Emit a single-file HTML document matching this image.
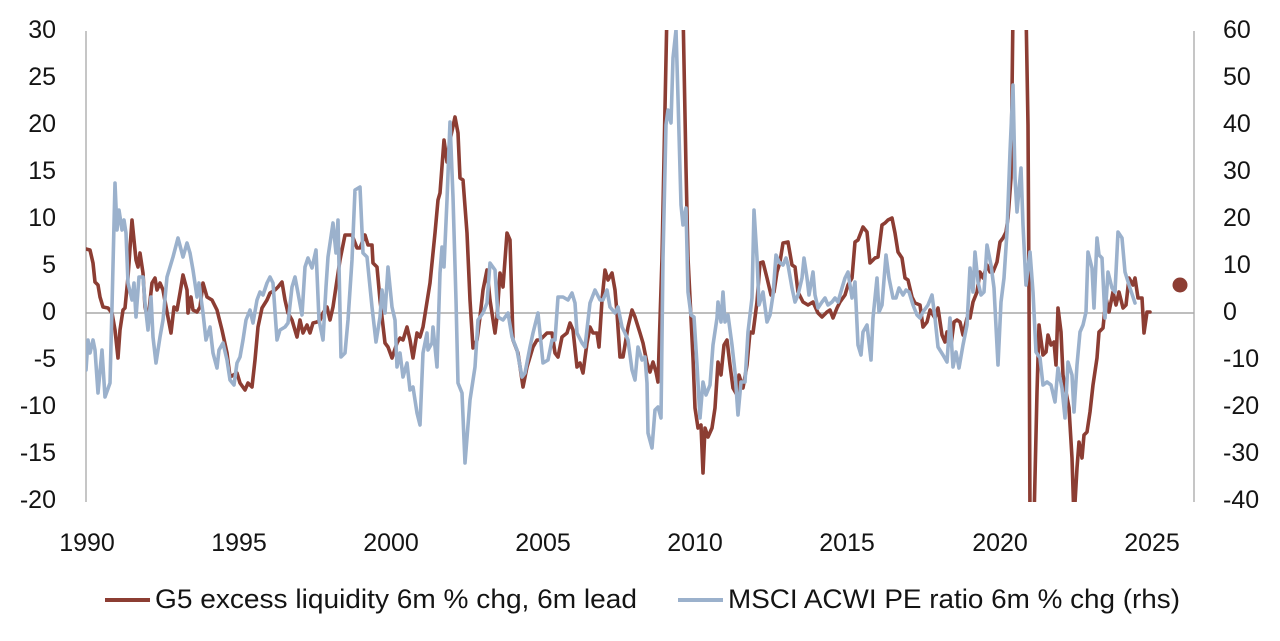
<!DOCTYPE html>
<html><head><meta charset="utf-8"><style>
html,body{margin:0;padding:0;background:#fff;}
svg{display:block;}
text{font-family:"Liberation Sans",Arial,sans-serif;fill:#141414;}
</style></head><body>
<svg width="1280" height="641" viewBox="0 0 1280 641" xmlns="http://www.w3.org/2000/svg">
<defs><clipPath id="c"><rect x="86" y="30" width="1108" height="472"/></clipPath></defs>
<rect width="1280" height="641" fill="#fff"/>
<line x1="86" y1="31" x2="86" y2="502" stroke="#b4b4b4" stroke-width="1.5"/>
<line x1="1194" y1="31" x2="1194" y2="502" stroke="#b4b4b4" stroke-width="1.5"/>
<line x1="86" y1="313" x2="1194" y2="313" stroke="#a8a8a8" stroke-width="1.5"/>
<g font-size="25" text-anchor="end">
<text x="56" y="38">30</text>
<text x="56" y="85">25</text>
<text x="56" y="132">20</text>
<text x="56" y="179">15</text>
<text x="56" y="226">10</text>
<text x="56" y="273">5</text>
<text x="56" y="320">0</text>
<text x="56" y="367">-5</text>
<text x="56" y="414">-10</text>
<text x="56" y="461">-15</text>
<text x="56" y="508">-20</text>
</g>
<g font-size="25" text-anchor="start">
<text x="1223" y="38">60</text>
<text x="1223" y="85">50</text>
<text x="1223" y="132">40</text>
<text x="1223" y="179">30</text>
<text x="1223" y="226">20</text>
<text x="1223" y="273">10</text>
<text x="1223" y="320">0</text>
<text x="1223" y="367">-10</text>
<text x="1223" y="414">-20</text>
<text x="1223" y="461">-30</text>
<text x="1223" y="508">-40</text>
</g>
<g font-size="25" text-anchor="middle">
<text x="87" y="551">1990</text>
<text x="239" y="551">1995</text>
<text x="391" y="551">2000</text>
<text x="543" y="551">2005</text>
<text x="695" y="551">2010</text>
<text x="847" y="551">2015</text>
<text x="1000" y="551">2020</text>
<text x="1152" y="551">2025</text>
</g>
<g clip-path="url(#c)" fill="none" stroke-linejoin="round" stroke-linecap="round">
<polyline stroke="#8c3d33" stroke-width="3.6" points="86,249 90,250 93,263 95,282 98,285 100,297 103,307 108,308 112,313 115,330 118,358 120,330 123,310 125,308 128,277 132,220 136,260 138,267 140,253 143,273 145,307 148,320 152,283 155,278 157,290 160,283 163,290 167,312 171,333 174,307 177,310 180,293 183,275 187,290 188,313 191,297 193,310 197,312 200,307 203,283 207,297 212,300 217,310 222,330 227,353 230,377 237,373 240,383 245,390 248,383 252,387 255,360 258,327 262,308 267,300 270,293 275,290 278,287 282,282 285,300 288,313 292,320 297,337 300,320 303,333 307,325 310,333 313,323 317,322 320,320 323,313 327,307 330,320 333,307 337,280 340,260 345,235 352,235 357,248 360,248 365,235 368,245 372,245 373,263 377,267 380,300 385,343 388,347 392,358 397,343 400,338 403,340 407,327 410,340 413,358 417,333 420,337 423,327 430,283 435,233 438,200 440,193 444,140 447,162 450,140 455,117 458,133 460,178 463,180 467,233 470,300 473,348 477,340 480,317 483,290 487,270 490,300 495,333 497,317 500,273 503,287 507,233 510,240 513,340 518,353 523,387 527,367 530,357 533,347 537,340 540,340 543,337 547,333 552,333 555,353 558,357 562,337 567,333 570,323 573,330 577,367 580,363 583,373 587,343 590,327 593,333 597,333 599,347 602,300 605,270 608,280 612,273 615,290 617,313 620,357 623,357 628,327 632,310 635,317 640,333 643,343 647,363 650,372 653,362 656,372 658,382 662,258 665,108 667,10 683,10 686,168 688,258 691,318 693,358 695,408 698,428 701,425 703,473 705,428 708,437 712,428 715,408 718,362 721,375 724,345 727,340 730,365 733,388 737,395 739,375 743,388 747,365 750,332 753,333 757,302 760,263 763,262 767,278 771,295 774,292 777,272 780,262 783,243 788,242 792,265 795,267 798,292 803,302 808,305 813,302 818,313 822,317 827,312 830,310 833,318 837,308 840,302 845,295 848,285 852,278 855,242 858,240 863,227 867,232 870,263 875,258 878,257 882,225 885,223 888,220 892,218 895,233 898,252 902,258 905,278 908,280 912,297 915,303 920,305 923,327 927,322 930,310 935,318 938,308 942,335 945,342 947,332 951,345 954,322 957,320 960,322 963,335 967,318 970,318 973,302 977,292 980,272 983,278 987,265 990,272 993,272 997,262 1000,242 1003,238 1006,232 1008,218 1011,178 1013,10 1026,10 1028,125 1029,292 1030,520 1034,520 1037,392 1039,325 1043,355 1046,352 1048,335 1051,345 1054,342 1056,365 1058,308 1061,332 1063,375 1066,392 1069,408 1072,458 1074,520 1077,468 1079,442 1082,458 1084,435 1087,432 1090,412 1093,385 1097,358 1099,332 1103,328 1106,298 1109,312 1113,292 1116,305 1119,292 1123,308 1126,305 1129,278 1133,285 1135,278 1138,298 1142,298 1144,333 1147,312 1150,312"/>
<polyline stroke="#9bb1cc" stroke-width="3.6" points="86,370 88,340 90,353 93,340 95,350 98,393 102,350 105,397 110,383 112,307 115,183 117,230 119,210 122,230 124,220 126,233 128,283 132,300 134,283 136,317 139,277 143,277 145,303 148,330 151,297 153,337 156,363 160,337 163,320 167,277 173,257 178,238 183,257 187,243 190,253 193,270 197,297 199,283 203,313 206,340 210,327 213,353 217,368 219,350 223,343 227,360 230,380 234,385 237,363 240,357 243,340 246,320 250,310 253,323 257,300 260,292 263,295 267,283 270,277 273,283 277,340 280,330 285,327 288,323 292,287 295,277 298,293 302,315 305,267 308,258 312,268 316,250 319,320 323,340 326,287 328,257 333,223 336,253 338,220 341,357 345,353 348,320 352,260 355,190 360,187 363,253 367,257 372,307 376,342 380,317 382,290 385,313 388,267 392,307 395,320 397,367 400,353 403,377 407,363 410,390 413,387 417,413 420,425 423,353 427,333 428,350 432,343 433,327 437,367 440,273 442,247 444,267 447,200 450,122 453,197 456,300 458,383 462,393 465,463 470,400 475,367 478,320 483,313 487,303 490,263 495,270 498,317 503,320 508,313 512,337 517,350 522,377 525,373 530,347 533,333 538,313 543,363 548,360 552,340 555,340 558,297 563,297 568,300 572,293 575,303 577,333 582,343 585,347 590,303 595,290 600,300 603,300 607,290 610,307 615,313 618,307 622,327 625,333 628,340 632,370 635,380 638,347 642,360 645,357 647,383 648,433 652,448 655,410 658,407 661,418 663,258 666,125 668,110 671,123 673,58 676,30 678,98 681,205 683,225 686,208 688,292 691,315 694,317 697,365 700,418 703,382 706,395 710,385 713,345 717,318 718,302 721,322 723,292 725,322 728,315 732,345 735,372 738,415 741,382 745,382 748,332 752,298 754,210 757,258 759,305 763,292 767,322 770,315 773,295 776,255 779,262 783,265 786,258 788,265 792,288 795,302 798,295 802,278 804,258 807,278 809,295 813,272 815,295 818,308 822,302 825,298 828,305 832,302 835,298 838,302 842,288 845,278 848,272 852,298 855,282 858,345 861,355 863,332 867,325 871,360 873,318 877,278 879,312 882,305 886,255 889,278 893,298 896,298 899,288 903,295 906,290 909,292 913,305 917,315 920,318 923,312 928,305 932,295 935,318 938,347 943,355 947,362 950,318 953,367 956,352 959,368 963,345 967,325 970,268 973,292 975,252 978,282 981,295 984,292 987,245 991,265 994,288 998,365 1001,302 1004,278 1007,232 1010,152 1013,85 1015,178 1017,212 1021,168 1023,225 1026,285 1030,252 1033,292 1036,352 1040,358 1043,385 1047,382 1051,385 1055,402 1058,368 1062,388 1065,418 1068,362 1072,375 1074,412 1077,365 1080,332 1083,325 1086,312 1088,252 1092,268 1094,308 1097,238 1099,255 1102,258 1105,318 1108,272 1112,288 1115,292 1118,232 1122,238 1125,272 1130,288 1135,303"/>
</g>
<circle cx="1180" cy="285" r="7.5" fill="#8c3d33"/>
<line x1="105" y1="600" x2="150" y2="600" stroke="#8c3d33" stroke-width="4"/>
<text x="155" y="608" font-size="27" textLength="482" lengthAdjust="spacingAndGlyphs">G5 excess liquidity 6m % chg, 6m lead</text>
<line x1="678" y1="600" x2="723" y2="600" stroke="#9bb1cc" stroke-width="4"/>
<text x="728" y="608" font-size="27" textLength="452" lengthAdjust="spacingAndGlyphs">MSCI ACWI PE ratio 6m % chg (rhs)</text>
</svg>
</body></html>
